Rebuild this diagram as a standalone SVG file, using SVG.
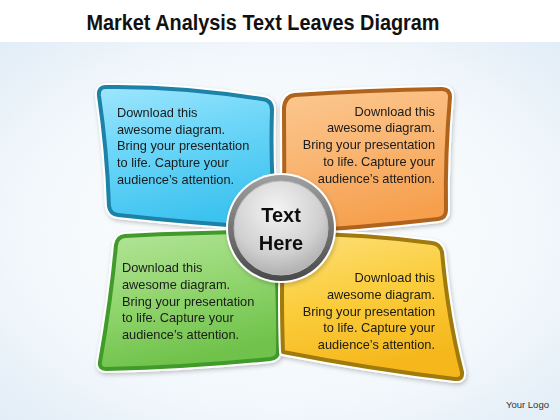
<svg xmlns="http://www.w3.org/2000/svg" width="560" height="420" viewBox="0 0 560 420">
<defs>
<radialGradient id="bg" cx="0.5" cy="0.5" r="0.75">
<stop offset="0" stop-color="#ffffff"/>
<stop offset="0.6" stop-color="#f3f8fc"/>
<stop offset="1" stop-color="#dfebf6"/>
</radialGradient>
<linearGradient id="gBlue" x1="0" y1="0" x2="0.3" y2="1">
<stop offset="0" stop-color="#9ee6fd"/>
<stop offset="0.45" stop-color="#6dd6f8"/>
<stop offset="1" stop-color="#3ec3f0"/>
</linearGradient>
<linearGradient id="gOrange" x1="0" y1="0" x2="0.3" y2="1">
<stop offset="0" stop-color="#fcc890"/>
<stop offset="0.5" stop-color="#f9b673"/>
<stop offset="1" stop-color="#f6a04e"/>
</linearGradient>
<linearGradient id="gGreen" x1="0" y1="0" x2="0.3" y2="1">
<stop offset="0" stop-color="#b4e59a"/>
<stop offset="0.5" stop-color="#93d670"/>
<stop offset="1" stop-color="#6fc24b"/>
</linearGradient>
<linearGradient id="gYellow" x1="0" y1="0" x2="0.3" y2="1">
<stop offset="0" stop-color="#fde07a"/>
<stop offset="0.5" stop-color="#fbcd3c"/>
<stop offset="1" stop-color="#f5b71c"/>
</linearGradient>
<linearGradient id="ring" x1="0" y1="0" x2="0" y2="1">
<stop offset="0" stop-color="#a0a0a0"/>
<stop offset="1" stop-color="#4a4a4a"/>
</linearGradient>
<radialGradient id="disc" cx="0.45" cy="0.3" r="0.8">
<stop offset="0" stop-color="#f4f4f4"/>
<stop offset="0.6" stop-color="#d0d0d0"/>
<stop offset="1" stop-color="#a2a2a2"/>
</radialGradient>
<filter id="sh" x="-10%" y="-10%" width="120%" height="120%">
<feDropShadow dx="1" dy="2" stdDeviation="2" flood-color="#000" flood-opacity="0.22"/>
</filter>
</defs>
<style>
.rim{fill:none;stroke:#ffffff;stroke-width:8;stroke-linejoin:round}
.leaf{stroke-width:4;stroke-linejoin:round}
.t{font-family:"Liberation Sans",Arial,sans-serif;font-size:12.8px;fill:#1a1a1a}
.r{text-anchor:end}
.title{font-family:"Liberation Sans",Arial,sans-serif;font-size:22px;font-weight:bold;fill:#111;text-anchor:middle}
.ct{font-family:"Liberation Sans",Arial,sans-serif;font-size:20px;font-weight:bold;fill:#111;text-anchor:middle}
</style>
<rect x="0" y="0" width="560" height="420" fill="#ffffff"/>
<rect x="0" y="42" width="560" height="378" fill="url(#bg)"/>
<text class="title" x="263" y="30" textLength="353" lengthAdjust="spacingAndGlyphs">Market Analysis Text Leaves Diagram</text>

<g id="leaf-blue" filter="url(#sh)">
<path class="rim" d="M106,87 Q180,86 262,99 Q272,100 272,110 Q270,170 276,228 Q200,224 118,215 Q110,214 109,206 Q107,150 99,96 Q98,87 106,87 Z"/>
<path class="leaf" fill="url(#gBlue)" stroke="#1b82a8" d="M106,87 Q180,86 262,99 Q272,100 272,110 Q270,170 276,228 Q200,224 118,215 Q110,214 109,206 Q107,150 99,96 Q98,87 106,87 Z"/>
<text class="t" x="117" y="117">Download this</text>
<text class="t" x="117" y="133.5">awesome diagram.</text>
<text class="t" x="117" y="150">Bring your presentation</text>
<text class="t" x="117" y="167">to life. Capture your</text>
<text class="t" x="117" y="184">audience’s attention.</text>
</g>

<g id="leaf-orange" filter="url(#sh)">
<path class="rim" d="M295,95 Q370,90 442,89 Q450,89 450,97 Q445,155 446,210 Q446,218 438,219 Q360,228 283,232 Q285,170 284,108 Q285,96 295,95 Z"/>
<path class="leaf" fill="url(#gOrange)" stroke="#b0641c" d="M295,95 Q370,90 442,89 Q450,89 450,97 Q445,155 446,210 Q446,218 438,219 Q360,228 283,232 Q285,170 284,108 Q285,96 295,95 Z"/>
<text class="t r" x="435" y="115.5">Download this</text>
<text class="t r" x="435" y="132">awesome diagram.</text>
<text class="t r" x="435" y="149">Bring your presentation</text>
<text class="t r" x="435" y="166">to life. Capture your</text>
<text class="t r" x="435" y="183">audience’s attention.</text>
</g>

<g id="leaf-green" filter="url(#sh)">
<path class="rim" d="M125,236 Q200,232 274,232 Q279,295 278,352 Q278,358 270,359 Q190,367 106,369 Q99,369 100,362 Q111,300 116,245 Q117,237 125,236 Z"/>
<path class="leaf" fill="url(#gGreen)" stroke="#3f9b2c" d="M125,236 Q200,232 274,232 Q279,295 278,352 Q278,358 270,359 Q190,367 106,369 Q99,369 100,362 Q111,300 116,245 Q117,237 125,236 Z"/>
<text class="t" x="122" y="272">Download this</text>
<text class="t" x="122" y="289">awesome diagram.</text>
<text class="t" x="122" y="305.5">Bring your presentation</text>
<text class="t" x="122" y="322">to life. Capture your</text>
<text class="t" x="122" y="339">audience’s attention.</text>
</g>

<g id="leaf-yellow" filter="url(#sh)">
<path class="rim" d="M283,234 Q360,233 432,243 Q440,244 442,252 Q448,318 462,372 Q463,380 455,379 Q370,369 283,352 Q281,300 283,234 Z"/>
<path class="leaf" fill="url(#gYellow)" stroke="#a07a0c" d="M283,234 Q360,233 432,243 Q440,244 442,252 Q448,318 462,372 Q463,380 455,379 Q370,369 283,352 Q281,300 283,234 Z"/>
<text class="t r" x="435" y="282">Download this</text>
<text class="t r" x="435" y="299">awesome diagram.</text>
<text class="t r" x="435" y="315.5">Bring your presentation</text>
<text class="t r" x="435" y="332">to life. Capture your</text>
<text class="t r" x="435" y="349">audience’s attention.</text>
</g>

<g id="center" filter="url(#sh)">
<circle cx="281" cy="228" r="55" fill="#ffffff"/>
<circle cx="281" cy="228" r="53" fill="url(#ring)"/>
<circle cx="281" cy="228" r="47" fill="url(#disc)" stroke="#bdbdbd" stroke-width="1"/>
<text class="ct" x="281" y="221.5">Text</text>
<text class="ct" x="281" y="250">Here</text>
</g>

<g id="connectors"/>

<text x="506" y="408" style="font-family:'Liberation Sans',Arial,sans-serif;font-size:9.5px;fill:#333">Your Logo</text>
</svg>
